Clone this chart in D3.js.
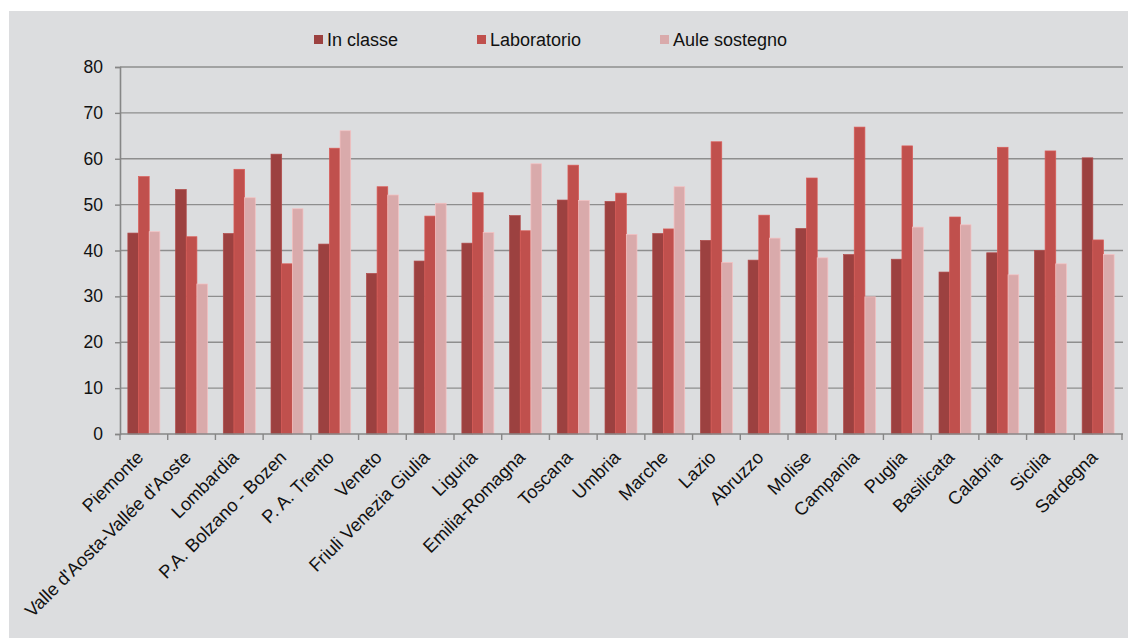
<!DOCTYPE html>
<html><head><meta charset="utf-8">
<script src="https://cdn.jsdelivr.net/npm/d3@7"></script>
<style>
html,body{margin:0;padding:0;background:#fff;}
svg{display:block;}
text{font-family:"Liberation Sans",Arial,sans-serif;fill:#111;}
</style></head>
<body>
<svg id="chart" width="1128" height="638"></svg>
<script>
const categories = ["Piemonte","Valle d'Aosta-Vallée d'Aoste","Lombardia","P.A. Bolzano - Bozen","P. A. Trento","Veneto","Friuli Venezia Giulia","Liguria","Emilia-Romagna","Toscana","Umbria","Marche","Lazio","Abruzzo","Molise","Campania","Puglia","Basilicata","Calabria","Sicilia","Sardegna"];
const seriesNames = ["In classe","Laboratorio","Aule sostegno"];
const inClasse    = [43.8,53.3,43.7,61.0,41.4,35.0,37.7,41.6,47.6,51.0,50.7,43.7,42.2,37.9,44.8,39.1,38.1,35.3,39.5,40.0,60.2];
const laboratorio = [56.1,43.0,57.7,37.1,62.3,53.9,47.5,52.6,44.3,58.6,52.5,44.7,63.7,47.7,55.8,66.9,62.8,47.3,62.5,61.7,42.3];
const auleSostegno= [44.1,32.7,51.5,49.1,66.1,52.1,50.3,43.9,58.9,50.9,43.5,53.9,37.4,42.7,38.4,29.9,45.1,45.6,34.7,37.1,39.1];
const yTicks = [0,10,20,30,40,50,60,70,80];
const colors = ["#9C4140","#C0504D","#D9AAAB"];

(function(){
const seriesValues = [inClasse, laboratorio, auleSostegno];
const svg = d3.select("#chart");

svg.append("rect").attr("x",9).attr("y",11).attr("width",1119).attr("height",627).attr("fill","#DCDDDF");

const pLeft = 120, pRight = 1122, pTop = 67, pBottom = 434;
const x0 = d3.scaleBand().domain(categories).range([pLeft,pRight]).padding(0);
const bw = x0.bandwidth();
const x1 = d3.scaleBand().domain(seriesNames).range([0.165*bw, 0.835*bw]).padding(0);
const y = d3.scaleLinear().domain([0,80]).range([pBottom, pTop]);

// gridlines
svg.append("g").selectAll("line").data(yTicks.filter(d=>d>0)).join("line")
  .attr("x1",pLeft).attr("x2",pRight+1).attr("y1",d=>y(d)).attr("y2",d=>y(d))
  .attr("stroke","#8E8E8E").attr("stroke-width",1.4);

// bars
const g = svg.append("g");
categories.forEach((c,i)=>{
  seriesNames.forEach((s,j)=>{
    const v = seriesValues[j][i];
    g.append("rect")
      .attr("x", x0(c)+x1(s))
      .attr("y", y(v))
      .attr("width", x1.bandwidth())
      .attr("height", y(0)-y(v))
      .attr("fill", colors[j])
      .attr("stroke", d3.color(colors[j]).brighter(0.35))
      .attr("stroke-width", 0.7);
  });
});

// y axis
const yAxis = d3.axisLeft(y).tickValues(yTicks).tickSize(5).tickPadding(12).tickFormat(d3.format("d"));
const ya = svg.append("g").attr("transform",`translate(${pLeft},0)`).call(yAxis);
ya.select(".domain").attr("stroke","#868686").attr("stroke-width",1.6);
ya.selectAll(".tick line").attr("stroke","#868686").attr("stroke-width",1.4);
ya.selectAll(".tick text").attr("font-size",17.5).attr("font-family","Liberation Sans, Arial, sans-serif").attr("fill","#111");

// x axis
const xa = svg.append("g").attr("transform",`translate(0,${pBottom})`);
xa.append("line").attr("x1",pLeft).attr("x2",pRight+1).attr("y1",0).attr("y2",0).attr("stroke","#868686").attr("stroke-width",1.6);
const boundaries = categories.map(c=>x0(c)).concat([pRight]);
xa.selectAll("line.tk").data(boundaries).join("line").attr("class","tk")
  .attr("x1",d=>d).attr("x2",d=>d).attr("y1",0).attr("y2",6).attr("stroke","#868686").attr("stroke-width",1.4);
xa.selectAll("text.lbl").data(categories).join("text").attr("class","lbl")
  .attr("transform",d=>`translate(${x0(d)+bw/2-4},${20}) rotate(-45)`)
  .attr("text-anchor","end").attr("dy","0.35em")
  .attr("font-size",18.3).text(d=>d);

// legend
const legendPos = [314, 477, 660];
const lg = svg.append("g");
seriesNames.forEach((s,j)=>{
  lg.append("rect").attr("x",legendPos[j]).attr("y",35).attr("width",9).attr("height",9).attr("fill",colors[j]);
  lg.append("text").attr("x",legendPos[j]+13).attr("y",45.5).attr("font-size",18).text(s);
});
})();
</script>
</body></html>
